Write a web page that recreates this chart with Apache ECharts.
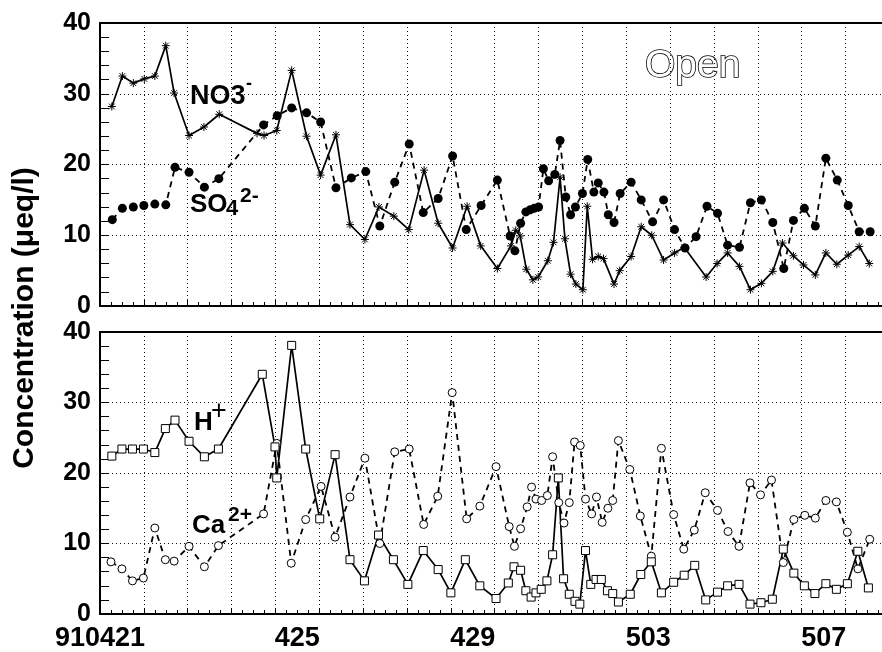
<!DOCTYPE html>
<html><head><meta charset="utf-8">
<script src="https://cdn.jsdelivr.net/npm/echarts@6/dist/echarts.min.js"></script>
<style>html,body{margin:0;padding:0;background:#fff}#c{width:882px;height:652px}</style>
</head><body><div id="c"></div>
<script>
// x = days since 910421 00:00
const no3 = [[0.27,28.2],[0.51,32.5],[0.76,31.5],[1.01,32.1],[1.25,32.5],[1.50,36.8],[1.69,30.1],[2.03,24.1],[2.37,25.3],[2.72,27.1],[3.58,24.4],[3.74,24.1],[4.03,24.8],[4.37,33.3],[4.71,24.0],[5.03,18.5],[5.38,24.2],[5.70,11.5],[6.04,9.4],[6.36,14.0],[6.70,12.7],[7.04,10.8],[7.39,19.2],[7.71,11.7],[8.04,8.2],[8.37,14.1],[8.68,8.5],[9.06,5.3],[9.37,8.5],[9.48,10.7],[9.58,9.9],[9.72,5.2],[9.87,3.7],[9.99,4.1],[10.21,6.4],[10.34,9.0],[10.49,18.2],[10.60,9.5],[10.73,4.5],[10.85,3.1],[11.01,2.3],[11.11,14.1],[11.23,6.6],[11.36,7.0],[11.48,6.7],[11.72,3.1],[11.85,5.0],[12.11,7.0],[12.34,11.2],[12.58,10.0],[12.85,6.5],[13.10,7.5],[13.32,8.3],[13.82,4.1],[14.07,6.0],[14.31,7.5],[14.58,5.6],[14.83,2.3],[15.08,3.2],[15.34,4.9],[15.56,8.9],[15.81,7.1],[16.04,5.8],[16.31,4.4],[16.55,7.5],[16.80,5.9],[17.06,7.2],[17.31,8.4],[17.54,6.0]];
const so4 = [[0.28,12.2],[0.51,13.8],[0.76,14.0],[1.00,14.2],[1.25,14.4],[1.50,14.3],[1.71,19.6],[2.03,18.9],[2.38,16.8],[2.71,18.0],[3.73,25.6],[4.04,26.9],[4.37,28.0],[4.71,27.3],[5.03,26.0],[5.38,16.7],[5.73,18.1],[6.06,19.0],[6.38,11.3],[6.72,17.5],[7.05,22.9],[7.37,13.2],[7.71,15.2],[8.04,21.2],[8.35,10.8],[8.69,14.2],[9.06,17.8],[9.35,9.9],[9.46,7.8],[9.59,11.7],[9.71,13.3],[9.81,13.6],[9.90,13.8],[10.00,14.0],[10.11,19.4],[10.23,17.7],[10.37,18.6],[10.49,23.4],[10.62,15.4],[10.73,12.9],[10.84,14.0],[11.00,15.9],[11.12,20.7],[11.26,16.1],[11.36,17.4],[11.49,16.1],[11.59,12.9],[11.72,11.8],[11.86,15.9],[12.11,17.5],[12.34,15.0],[12.60,11.9],[12.85,15.0],[13.10,10.8],[13.34,8.2],[13.59,9.8],[13.84,14.1],[14.08,13.1],[14.31,8.6],[14.58,8.3],[14.83,14.6],[15.08,15.0],[15.34,11.8],[15.59,5.3],[15.81,12.1],[16.06,13.8],[16.31,11.3],[16.55,20.9],[16.81,17.8],[17.06,14.2],[17.31,10.5],[17.56,10.5]];
const hplus = [[0.27,22.4],[0.50,23.4],[0.74,23.4],[0.99,23.4],[1.25,22.9],[1.49,26.3],[1.71,27.5],[2.03,24.5],[2.38,22.3],[2.70,23.4],[3.70,34.0],[3.99,23.7],[4.03,19.3],[4.37,38.1],[4.69,23.4],[5.01,13.5],[5.36,22.6],[5.70,7.7],[6.03,4.7],[6.35,11.2],[6.69,7.7],[7.02,4.2],[7.37,9.0],[7.71,6.3],[8.00,3.0],[8.33,7.7],[8.66,4.0],[9.03,2.2],[9.31,4.4],[9.44,6.7],[9.59,6.2],[9.71,3.3],[9.83,2.4],[9.94,3.0],[10.06,3.5],[10.19,4.7],[10.32,8.4],[10.45,19.3],[10.57,5.0],[10.70,2.8],[10.83,1.8],[10.94,1.4],[11.07,9.0],[11.19,4.2],[11.31,4.9],[11.43,4.9],[11.57,3.3],[11.69,2.9],[11.82,1.7],[12.09,2.8],[12.33,5.6],[12.57,7.4],[12.80,3.0],[13.08,4.5],[13.32,5.5],[13.56,6.9],[13.81,2.0],[14.08,3.1],[14.31,4.0],[14.57,4.2],[14.82,1.4],[15.07,1.6],[15.33,2.1],[15.58,9.2],[15.82,5.8],[16.06,4.0],[16.30,2.9],[16.55,4.3],[16.79,3.5],[17.04,4.3],[17.28,8.9],[17.52,3.7]];
const ca = [[0.25,7.4],[0.50,6.4],[0.74,4.7],[0.99,5.1],[1.25,12.2],[1.49,7.7],[1.69,7.5],[2.03,9.6],[2.38,6.7],[2.70,9.7],[3.73,14.2],[4.03,24.2],[4.36,7.2],[4.69,13.4],[5.04,18.1],[5.36,10.9],[5.70,16.6],[6.04,22.1],[6.38,10.0],[6.72,23.0],[7.05,23.4],[7.38,12.7],[7.70,16.7],[8.03,31.4],[8.36,13.5],[8.66,15.3],[9.03,20.9],[9.33,12.4],[9.45,9.6],[9.59,12.1],[9.74,15.2],[9.84,18.0],[9.94,16.3],[10.07,16.1],[10.20,16.8],[10.32,22.3],[10.46,15.8],[10.58,12.9],[10.70,15.8],[10.82,24.4],[10.95,23.9],[11.07,16.3],[11.21,14.2],[11.32,16.6],[11.45,13.0],[11.58,15.0],[11.69,16.1],[11.82,24.6],[12.08,20.5],[12.32,13.9],[12.57,8.2],[12.80,23.5],[13.08,14.1],[13.31,9.2],[13.55,11.9],[13.80,17.2],[14.08,14.7],[14.32,11.7],[14.57,9.6],[14.82,18.6],[15.06,16.9],[15.31,19.0],[15.58,7.3],[15.82,13.4],[16.07,14.0],[16.31,13.6],[16.55,16.1],[16.79,15.9],[17.04,11.6],[17.28,6.4],[17.55,10.6]];
const dateLabels = [[0,'910421'],[4.5,'425'],[8.5,'429'],[12.5,'503'],[16.5,'507']];
const yTicks = [0,10,20,30,40];

const XMAX = 17.83;
const FONT = '"Liberation Sans", Arial, Helvetica, sans-serif';
const labelMap = {};
dateLabels.forEach(d => { labelMap[d[0].toFixed(1)] = d[1]; });

function frameX(gi, pos) {
  return {
    type: 'value', gridIndex: gi, position: pos, min: 0, max: XMAX,
    interval: 1,
    axisLine: { show: true, onZero: false, lineStyle: { color: '#000', width: 2 } },
    axisTick: { show: pos === 'bottom', inside: true, length: 6, lineStyle: { color: '#000', width: 1 } },
    minorTick: { show: pos === 'bottom', splitNumber: 4, length: 4, lineStyle: { color: '#000', width: 1 } },
    splitLine: { show: pos === 'bottom', lineStyle: { color: '#111', width: 1, type: [1, 3] } },
    axisLabel: { show: false }
  };
}
function frameY(gi) {
  return {
    type: 'value', gridIndex: gi, min: yTicks[0], max: yTicks[yTicks.length - 1], interval: 10,
    axisLine: { show: true, onZero: false, lineStyle: { color: '#000', width: 2 } },
    axisTick: { show: true, inside: true, length: 9, lineStyle: { color: '#000', width: 1 } },
    minorTick: { show: true, splitNumber: 5, length: 9, lineStyle: { color: '#000', width: 1 } },
    splitLine: { show: true, lineStyle: { color: '#111', width: 1, type: [1, 3] } },
    axisLabel: { show: true, margin: 9, color: '#000', fontSize: 25, fontWeight: 'bold', fontFamily: FONT }
  };
}
const asterisk = 'path://M0,-5L0,5M-5,0L5,0M-3.6,-3.6L3.6,3.6M-3.6,3.6L3.6,-3.6';

const chart = echarts.init(document.getElementById('c'), null, { renderer: 'canvas' });
chart.setOption({
  animation: false,
  backgroundColor: '#fff',
  grid: [
    { left: 100, top: 23, width: 782, height: 283 },
    { left: 100, top: 332, width: 782, height: 283 }
  ],
  xAxis: [
    frameX(0, 'bottom'),
    frameX(1, 'bottom'),
    frameX(0, 'top'),
    frameX(1, 'top'),
    {
      type: 'value', gridIndex: 1, position: 'bottom', min: 0, max: XMAX, interval: 0.5,
      axisLine: { show: false, onZero: false }, axisTick: { show: false }, splitLine: { show: false },
      axisLabel: {
        show: true, margin: 11, color: '#000', fontSize: 27, fontWeight: 'bold', fontFamily: FONT,
        showMinLabel: true, showMaxLabel: false,
        formatter: v => labelMap[(+v).toFixed(1)] || ''
      }
    }
  ],
  yAxis: [frameY(0), frameY(1)],
  series: [
    { name: 'NO3-', type: 'line', xAxisIndex: 0, yAxisIndex: 0, data: no3,
      symbol: asterisk, symbolSize: 8, showAllSymbol: true,
      lineStyle: { color: '#000', width: 1.7 },
      itemStyle: { color: '#000', borderColor: '#000', borderWidth: 1 } },
    { name: 'SO42-', type: 'line', xAxisIndex: 0, yAxisIndex: 0, data: so4,
      symbol: 'circle', symbolSize: 9, showAllSymbol: true,
      lineStyle: { color: '#000', width: 1.8, type: [6, 5] },
      itemStyle: { color: '#000', borderColor: '#000', borderWidth: 0 } },
    { name: 'Ca2+', type: 'line', xAxisIndex: 1, yAxisIndex: 1, data: ca,
      symbol: 'circle', symbolSize: 8, showAllSymbol: true,
      lineStyle: { color: '#000', width: 1.8, type: [6, 5] },
      itemStyle: { color: '#fff', borderColor: '#000', borderWidth: 1 } },
    { name: 'H+', type: 'line', xAxisIndex: 1, yAxisIndex: 1, data: hplus,
      symbol: 'rect', symbolSize: 8, showAllSymbol: true,
      lineStyle: { color: '#000', width: 1.7 },
      itemStyle: { color: '#fff', borderColor: '#000', borderWidth: 1 } }
  ],
  graphic: [
    { type: 'text', x: 25, y: 318, rotation: Math.PI / 2,
      style: { text: 'Concentration (μeq/l)', fontSize: 30, fontWeight: 'bold', fontFamily: FONT, fill: '#000', align: 'center', verticalAlign: 'middle' } },
    { type: 'text', x: 645, y: 66,
      style: { text: 'Open', fontSize: 39, fontWeight: 'normal', fontFamily: FONT, fill: '#fff', stroke: '#000', lineWidth: 1.6, align: 'left', verticalAlign: 'middle' } },
    { type: 'text', x: 190, y: 97,
      style: { text: 'NO3', fontSize: 27, fontWeight: 'bold', fontFamily: FONT, fill: '#000', align: 'left', verticalAlign: 'middle' } },
    { type: 'text', x: 246, y: 84,
      style: { text: '-', fontSize: 18, fontWeight: 'bold', fontFamily: FONT, fill: '#000', align: 'left', verticalAlign: 'middle' } },
    { type: 'text', x: 190, y: 205,
      style: { text: 'SO', fontSize: 26, fontWeight: 'bold', fontFamily: FONT, fill: '#000', align: 'left', verticalAlign: 'middle' } },
    { type: 'text', x: 226, y: 209,
      style: { text: '4', fontSize: 22, fontWeight: 'bold', fontFamily: FONT, fill: '#000', align: 'left', verticalAlign: 'middle' } },
    { type: 'text', x: 240, y: 196,
      style: { text: '2-', fontSize: 21, fontWeight: 'bold', fontFamily: FONT, fill: '#000', align: 'left', verticalAlign: 'middle' } },
    { type: 'text', x: 194, y: 423,
      style: { text: 'H', fontSize: 26, fontWeight: 'bold', fontFamily: FONT, fill: '#000', align: 'left', verticalAlign: 'middle' } },
    { type: 'text', x: 211, y: 412,
      style: { text: '+', fontSize: 27, fontWeight: 'normal', fontFamily: FONT, fill: '#000', align: 'left', verticalAlign: 'middle' } },
    { type: 'text', x: 192, y: 526,
      style: { text: 'Ca', fontSize: 26, fontWeight: 'bold', fontFamily: FONT, fill: '#000', align: 'left', verticalAlign: 'middle' } },
    { type: 'text', x: 228, y: 515,
      style: { text: '2+', fontSize: 21, fontWeight: 'bold', fontFamily: FONT, fill: '#000', align: 'left', verticalAlign: 'middle' } }
  ]
});
</script>
</body></html>
